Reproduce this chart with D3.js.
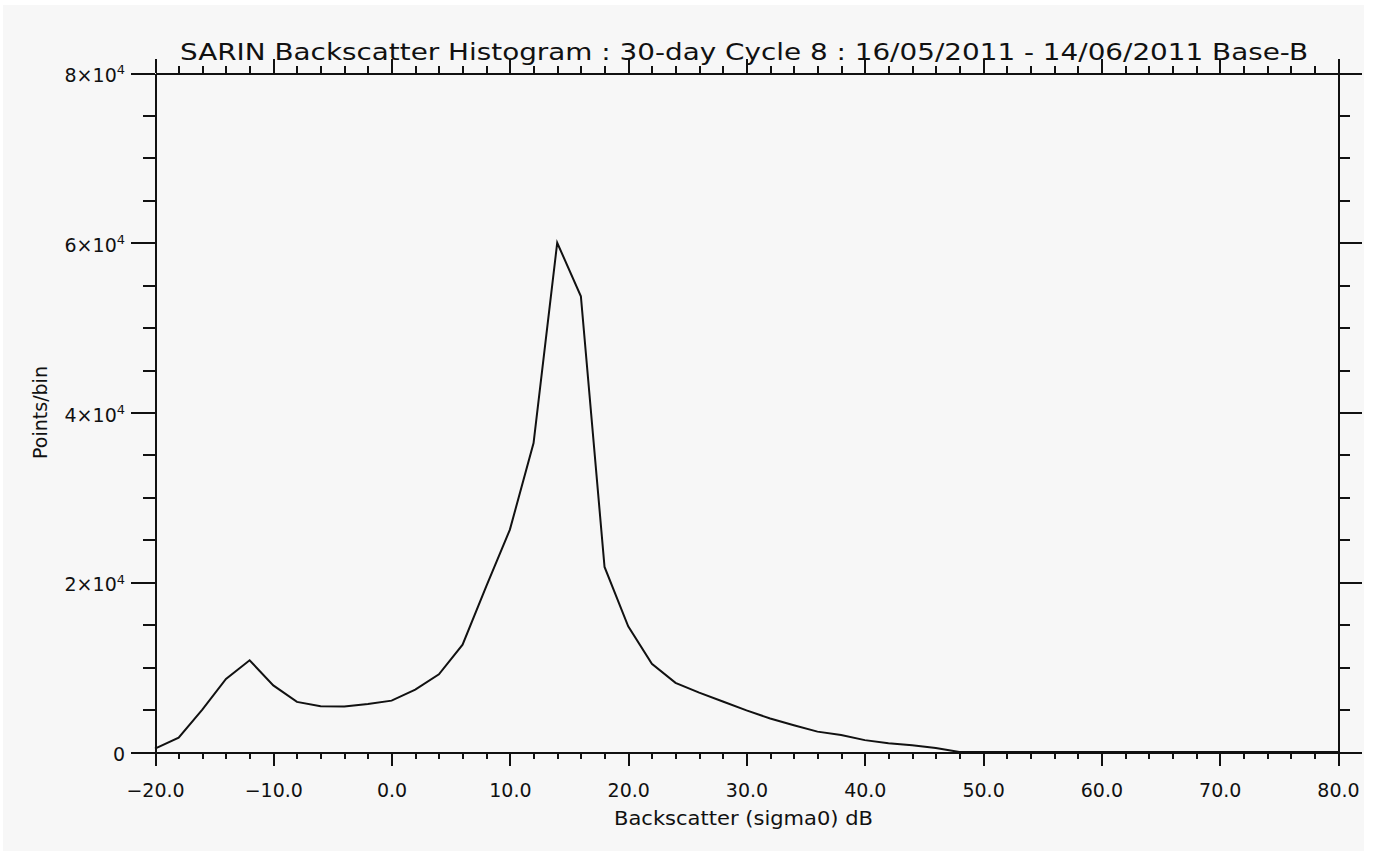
<!DOCTYPE html>
<html>
<head>
<meta charset="utf-8">
<script src="https://cdn.jsdelivr.net/npm/d3@7"></script>
<style>
	body { margin: 0; background: #ffffff; }
	text { font-family: "DejaVu Sans", sans-serif; fill: #111; }
	.axis path, .axis line { stroke: #111; stroke-width: 2; shape-rendering: crispEdges; }
	.curve { fill: none; stroke: #111; stroke-width: 2; }
</style>
</head>
<body>
<div id="chart"></div>
<script>

// bin centres (dB) and counts
const binCentres = [-20, -18, -16, -14, -12, -10, -8, -6, -4, -2, 0, 2, 4, 6, 8, 10, 12, 14, 16, 18,
	20, 22, 24, 26, 28, 30, 32, 34, 36, 38, 40, 42, 44, 46, 48, 50, 52, 54, 56, 58, 60,
	62, 64, 66, 68, 70, 72, 74, 76, 78, 80];
const pointsPerBin = [400, 1700, 5000, 8600, 10800, 7850, 5900, 5400, 5350, 5650, 6050, 7350, 9150, 12650, 19500, 26200, 36400, 60000, 53700, 21800,
	14800, 10400, 8150, 7000, 5950, 4900, 3950, 3150, 2400, 2000, 1400, 1020, 800, 480, 0, 0, 0, 0, 0, 0, 0,
	0, 0, 0, 0, 0, 0, 0, 0, 0, 0];

// axis ticks
const xMajorTicks = [-20, -10, 0, 10, 20, 30, 40, 50, 60, 70, 80];
const xMinorTicks = [-18, -16, -14, -12, -8, -6, -4, -2, 2, 4, 6, 8, 12, 14, 16, 18, 22, 24, 26, 28,
	32, 34, 36, 38, 42, 44, 46, 48, 52, 54, 56, 58, 62, 64, 66, 68, 72, 74, 76, 78];
const yMajorTicks = [0, 20000, 40000, 60000, 80000];
const yMinorTicks = [5000, 10000, 15000, 25000, 30000, 35000, 45000, 50000, 55000, 65000, 70000, 75000];
const yTickMantissa = ["0", "2", "4", "6", "8"];
const yTickExponent = ["", "4", "4", "4", "4"];

const chartTitle = "SARIN Backscatter Histogram : 30-day Cycle 8 : 16/05/2011 - 14/06/2011 Base-B";
const xTitle = "Backscatter (sigma0) dB";
const yTitle = "Points/bin";


class HistogramChart {

	constructor(parentElement) {
		this.parentElement = parentElement;
		this.initVis();
	}

	initVis() {
		let vis = this;

		vis.margin = {top: 73, right: 43, bottom: 99, left: 155};
		vis.width = 1381 - vis.margin.left - vis.margin.right;
		vis.height = 851 - vis.margin.top - vis.margin.bottom;

		let root = d3.select("#" + vis.parentElement).append("svg")
			.attr("width", 1381)
			.attr("height", 851);

		root.append("clipPath")
			.attr("id", "canvasClip")
			.append("rect")
			.attr("x", 3).attr("y", 5)
			.attr("width", 1361).attr("height", 846);

		let canvas = root.append("g")
			.attr("clip-path", "url(#canvasClip)");

		canvas.append("rect")
			.attr("x", 3).attr("y", 5)
			.attr("width", 1361).attr("height", 846)
			.attr("fill", "#f7f7f7");

		vis.svg = canvas.append("g")
			.attr("transform", "translate(" + vis.margin.left + "," + vis.margin.top + ")");

		// scales
		vis.x = d3.scaleLinear()
			.domain([-20, 80])
			.range([0, vis.width]);
		vis.y = d3.scaleLinear()
			.domain([0, 80000])
			.range([vis.height, 0]);

		vis.updateVis();
	}

	updateVis() {
		let vis = this;

		// minor ticks, with the axis lines
		vis.svg.append("g").attr("class", "axis")
			.attr("transform", "translate(0," + vis.height + ")")
			.call(d3.axisBottom(vis.x).tickValues(xMinorTicks).tickSize(7).tickSizeOuter(0).tickFormat(""));
		vis.svg.append("g").attr("class", "axis")
			.call(d3.axisTop(vis.x).tickValues(xMinorTicks).tickSize(7).tickSizeOuter(0).tickFormat(""));
		vis.svg.append("g").attr("class", "axis")
			.call(d3.axisLeft(vis.y).tickValues(yMinorTicks).tickSize(12).tickSizeOuter(0).tickFormat(""));
		vis.svg.append("g").attr("class", "axis")
			.attr("transform", "translate(" + vis.width + ",0)")
			.call(d3.axisRight(vis.y).tickValues(yMinorTicks).tickSize(12).tickSizeOuter(0).tickFormat(""));

		// major ticks
		let xAxis = vis.svg.append("g").attr("class", "axis x-axis")
			.attr("transform", "translate(0," + vis.height + ")")
			.call(d3.axisBottom(vis.x).tickValues(xMajorTicks).tickSize(14).tickPadding(18)
				.tickFormat(d3.format(".1f")));
		vis.svg.append("g").attr("class", "axis")
			.call(d3.axisTop(vis.x).tickValues(xMajorTicks).tickSize(14).tickFormat(""));
		let yAxis = vis.svg.append("g").attr("class", "axis y-axis")
			.call(d3.axisLeft(vis.y).tickValues(yMajorTicks).tickSize(24).tickPadding(6));
		vis.svg.append("g").attr("class", "axis")
			.attr("transform", "translate(" + vis.width + ",0)")
			.call(d3.axisRight(vis.y).tickValues(yMajorTicks).tickSize(24).tickFormat(""));

		vis.svg.selectAll(".axis .domain").filter((d, i) => i >= 4).remove();

		xAxis.selectAll("text")
			.attr("font-size", "19px")
			.attr("font-family", "DejaVu Sans, sans-serif")
			.attr("fill", "#111");

		yAxis.selectAll(".tick text")
			.attr("font-size", "19px")
			.attr("font-family", "DejaVu Sans, sans-serif")
			.attr("fill", "#111")
			.attr("dy", "0.45em")
			.each(function(d, i) {
				let t = d3.select(this);
				t.text(null);
				if (yTickExponent[i] === "") {
					t.text(yTickMantissa[i]);
				} else {
					t.append("tspan").text(yTickMantissa[i] + "×10");
					t.append("tspan")
						.attr("dy", "-0.6em")
						.attr("font-size", "13px")
						.text(yTickExponent[i]);
				}
			});

		// histogram line
		let line = d3.line()
			.x((d, i) => vis.x(binCentres[i]))
			.y(d => vis.y(d));

		vis.svg.append("path")
			.datum(pointsPerBin)
			.attr("class", "curve")
			.attr("d", line);

		// titles
		vis.svg.append("text")
			.attr("x", 589)
			.attr("y", -13)
			.attr("text-anchor", "middle")
			.attr("font-size", "23px")
			.attr("textLength", 1128)
			.attr("lengthAdjust", "spacingAndGlyphs")
			.text(chartTitle);

		vis.svg.append("text")
			.attr("x", vis.width / 2 - 3)
			.attr("y", vis.height + 73)
			.attr("text-anchor", "middle")
			.attr("font-size", "19px")
			.attr("textLength", 259)
			.attr("lengthAdjust", "spacingAndGlyphs")
			.text(xTitle);

		vis.svg.append("text")
			.attr("transform", "translate(" + (46.5 - vis.margin.left) + "," + (vis.height / 2) + ") rotate(-90)")
			.attr("text-anchor", "middle")
			.attr("font-size", "19px")
			.text(yTitle);
	}
}

new HistogramChart("chart");

</script>
</body>
</html>
